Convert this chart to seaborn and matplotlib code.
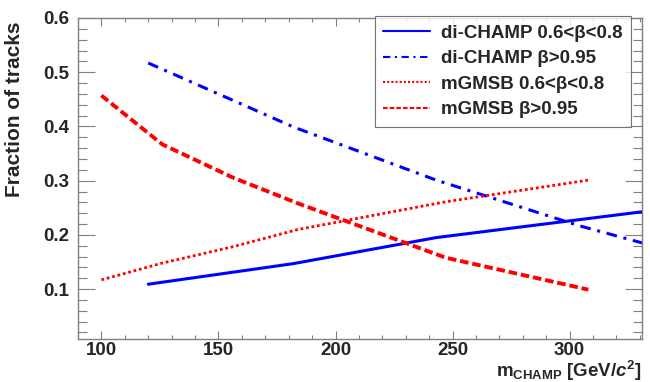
import pandas as pd
import seaborn as sns
import numpy as np
import matplotlib
matplotlib.use('Agg')
import matplotlib.pyplot as plt
from matplotlib.ticker import MultipleLocator

# data
champ_mass = [120, 182, 243, 304, 365]
champ_slow = [0.109, 0.147, 0.195, 0.228, 0.261]
champ_fast = [0.517, 0.399, 0.301, 0.217, 0.145]

gmsb_mass = [100, 126, 156, 184, 247, 308]
gmsb_slow = [0.117, 0.148, 0.178, 0.210, 0.261, 0.301]
gmsb_fast = [0.457, 0.367, 0.306, 0.258, 0.158, 0.099]

labels = ['di-CHAMP 0.6<β<0.8', 'di-CHAMP β>0.95',
          'mGMSB 0.6<β<0.8', 'mGMSB β>0.95']

rows = []
for lab, xs, ys in zip(labels,
                       [champ_mass, champ_mass, gmsb_mass, gmsb_mass],
                       [champ_slow, champ_fast, gmsb_slow, gmsb_fast]):
    for x, y in zip(xs, ys):
        rows.append({'mass': x, 'frac': y, 'series': lab})
df = pd.DataFrame(rows)

sns.set_style('ticks')
plt.rcParams['font.family'] = ['Liberation Sans', 'DejaVu Sans']
plt.rcParams['font.weight'] = 'bold'
plt.rcParams['mathtext.fontset'] = 'custom'
plt.rcParams['mathtext.rm'] = 'Liberation Sans:bold'
plt.rcParams['mathtext.bf'] = 'Liberation Sans:bold'
plt.rcParams['mathtext.it'] = 'Liberation Sans:bold:italic'

fig = plt.figure(figsize=(6.5, 3.82), dpi=100)
ax = fig.add_axes([0.12, 0.1126, 0.868, 0.8403])

palette = {labels[0]: '#0000ff', labels[1]: '#0000ff',
           labels[2]: '#ff0000', labels[3]: '#ff0000'}
dashes = {labels[0]: '', labels[1]: (3.5, 2.2, 1, 2.2),
          labels[2]: (1, 1), labels[3]: (2.2, 1.0)}
widths = [2.2, 2.2, 2.0, 2.8]

sns.lineplot(data=df, x='mass', y='frac', hue='series', style='series',
             palette=palette, dashes=dashes, hue_order=labels,
             style_order=labels, estimator=None, sort=False, ax=ax)

for line, lw in zip(ax.get_lines()[:4], widths):
    line.set_linewidth(lw)

ax.set_xlim(90, 331)
ax.set_ylim(0.008, 0.6)
ax.xaxis.set_major_locator(MultipleLocator(50))
ax.xaxis.set_minor_locator(MultipleLocator(10))
ax.yaxis.set_major_locator(MultipleLocator(0.1))
ax.yaxis.set_minor_locator(MultipleLocator(0.02))
ax.set_yticks([0.1, 0.2, 0.3, 0.4, 0.5, 0.6])
ax.tick_params(which='both', direction='in', top=True, right=True,
               color='#808080', labelsize=13.5, width=0.8)
ax.tick_params(axis='x', which='major', length=6, pad=2.5)
ax.tick_params(axis='x', which='minor', length=3)
ax.tick_params(axis='y', which='major', length=12, pad=6)
ax.tick_params(axis='y', which='minor', length=6.5)
for lab in ax.get_xticklabels() + ax.get_yticklabels():
    lab.set_fontweight('bold')
for s in ax.spines.values():
    s.set_color('#808080')
    s.set_linewidth(1.0)

ax.set_ylabel('Fraction of tracks', fontsize=15, fontweight='bold')
ax.yaxis.set_label_coords(-0.095, 0.717)
ax.set_xlabel(r'm$_{\mathrm{CHAMP}}$ [GeV/$\mathit{c}^{2}$]', fontsize=13.5,
              fontweight='bold', ha='right', va='bottom')
ax.xaxis.set_label_coords(1.0, -0.138)

handles, _ = ax.get_legend_handles_labels()
leg = ax.legend(handles[:4], labels, loc='upper left',
                bbox_to_anchor=(375 / 650, 1 - 16 / 382),
                bbox_transform=fig.transFigure, frameon=True, fancybox=False,
                prop={'weight': 'bold', 'size': 13.5}, handlelength=2.5,
                labelspacing=0.45, borderpad=0.45, handletextpad=0.55,
                borderaxespad=0)
leg.get_frame().set_edgecolor('#505050')
leg.get_frame().set_linewidth(0.8)

fig.savefig('out.png', dpi=100)
